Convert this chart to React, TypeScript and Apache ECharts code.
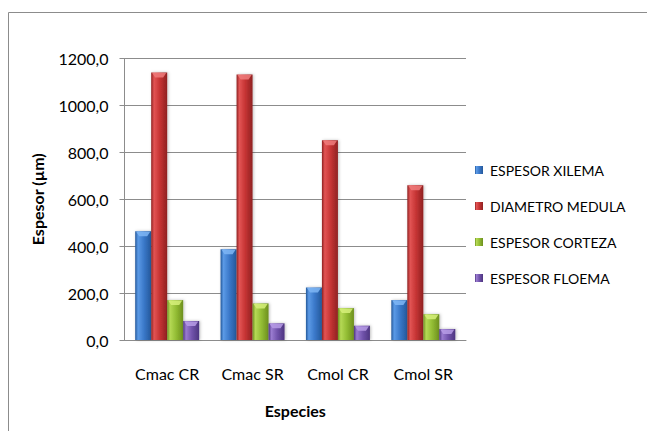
import React, { useEffect, useRef } from "react";
import * as echarts from "echarts";

const categories = ["Cmac CR", "Cmac SR", "Cmol CR", "Cmol SR"];
const espesorXilema = [464, 387, 224, 170];
const diametroMedula = [1140, 1132, 851, 660];
const espesorCorteza = [170, 156, 136, 110];
const espesorFloema = [81, 71, 61, 47];
const seriesNames = ["ESPESOR XILEMA", "DIAMETRO MEDULA", "ESPESOR CORTEZA", "ESPESOR FLOEMA"];

const FONT = "Lato, 'Liberation Sans', sans-serif";
const BAR_W = 16;

// edge, highlight, base, cap colours for the bevelled bar look
const palette: [string, string, string, string][] = [
  ["#24589a", "#5b9ae6", "#3a78c9", "#7fb6f5"],
  ["#8f2222", "#e25454", "#c53333", "#ee7b7b"],
  ["#6d8f1e", "#b5d955", "#93bd34", "#d6f07a"],
  ["#4d3580", "#9a7bd0", "#7153ab", "#b79ce6"],
];

function barColor(i: number) {
  const [edge, light, base] = palette[i];
  return new echarts.graphic.LinearGradient(0, 0, 1, 0, [
    { offset: 0, color: edge },
    { offset: 0.18, color: light },
    { offset: 0.55, color: base },
    { offset: 1, color: edge },
  ]);
}

export default function App() {
  const ref = useRef<HTMLDivElement>(null);

  useEffect(() => {
    if (!ref.current) return;
    const chart = echarts.init(ref.current, undefined, { renderer: "svg" });
    const data = [espesorXilema, diametroMedula, espesorCorteza, espesorFloema];

    const bars = data.map((vals, i) => ({
      type: "bar",
      name: seriesNames[i],
      data: vals,
      barWidth: BAR_W,
      barGap: "0%",
      itemStyle: {
        color: barColor(i),
        shadowColor: "rgba(0,0,0,0.25)",
        shadowBlur: 3,
        shadowOffsetX: 1,
        shadowOffsetY: 0,
      },
    }));

    // light bevel on the top face of every bar
    const caps = data.map((vals, i) => ({
      type: "custom",
      name: "cap" + i,
      data: vals.map((v, k) => [k, v]),
      z: 3,
      silent: true,
      renderItem: (_params: any, api: any) => {
        const pt = api.coord([api.value(0), api.value(1)]);
        const left = pt[0] - (BAR_W * data.length) / 2 + BAR_W * i;
        const top = pt[1];
        return {
          type: "polygon",
          shape: {
            points: [
              [left + 1, top + 0.5],
              [left + BAR_W - 1, top + 0.5],
              [left + BAR_W - 4, top + 5],
              [left + 4, top + 5],
            ],
          },
          style: { fill: palette[i][3], opacity: 0.85 },
        };
      },
    }));

    chart.setOption({
      animation: false,
      backgroundColor: "#ffffff",
      textStyle: { fontFamily: FONT },
      graphic: [
        {
          type: "rect",
          shape: { x: 8.5, y: 12.5, width: 700, height: 500 },
          style: { fill: "none", stroke: "#8c8c8c", lineWidth: 1 },
          silent: true,
        },
      ],
      grid: { left: 124.5, right: 181, top: 58.5, bottom: 91 },
      legend: {
        orient: "vertical",
        left: 475,
        top: 163,
        padding: 0,
        itemWidth: 8,
        itemHeight: 8,
        itemGap: 22,
        icon: "rect",
        data: seriesNames,
        textStyle: { fontFamily: FONT, fontSize: 14, color: "#000", padding: [0, 0, 0, 2] },
      },
      xAxis: {
        type: "category",
        data: categories,
        name: "Especies",
        nameLocation: "middle",
        nameGap: 62,
        nameTextStyle: { fontFamily: FONT, fontSize: 16, fontWeight: "bold", color: "#000" },
        axisLine: { lineStyle: { color: "#8c8c8c", width: 1 } },
        axisTick: { show: false },
        axisLabel: { color: "#000", fontSize: 16, fontFamily: FONT, margin: 25 },
      },
      yAxis: {
        type: "value",
        min: 0,
        max: 1200,
        interval: 200,
        name: "Espesor (µm)",
        nameLocation: "middle",
        nameGap: 79,
        nameTextStyle: { fontFamily: FONT, fontSize: 16, fontWeight: "bold", color: "#000" },
        axisLine: { show: true, lineStyle: { color: "#8c8c8c", width: 1 } },
        axisTick: { show: true, length: 5, lineStyle: { color: "#8c8c8c" } },
        axisLabel: {
          color: "#000",
          fontSize: 16,
          fontFamily: FONT,
          margin: 16,
          formatter: (v: number) => v.toFixed(1).replace(".", ","),
        },
        splitLine: { lineStyle: { color: "#8c8c8c", width: 1 } },
      },
      series: [...bars, ...caps],
    });
    return () => chart.dispose();
  }, []);

  return (
    <div
      ref={ref}
      style={{ position: "absolute", left: 0, top: 0, width: 647, height: 431 }}
    />
  );
}
